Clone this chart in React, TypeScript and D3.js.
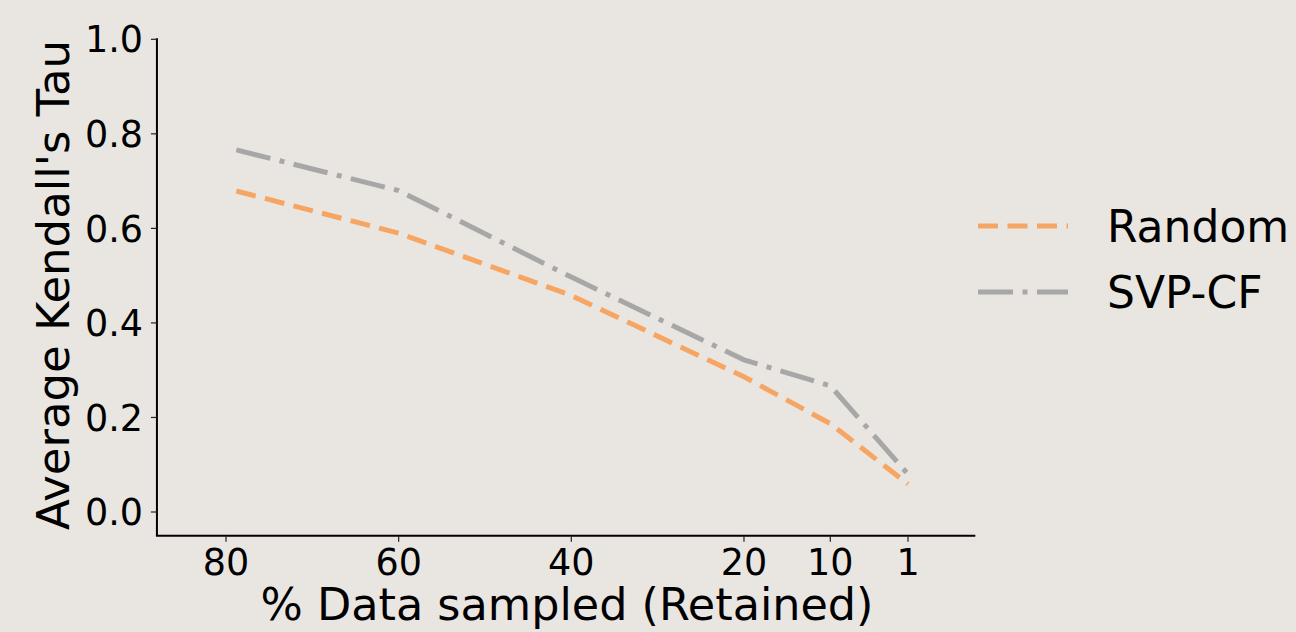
import React from 'react';
import * as d3 from 'd3';

// sampled share of data (% retained) and mean Kendall's tau per method
const sampled = [78.8, 60, 40, 20, 10, 1];
const randomTau = [0.679, 0.59, 0.458, 0.286, 0.187, 0.059];
const svpTau = [0.766, 0.68, 0.497, 0.322, 0.267, 0.08];
const xTicks = [80, 60, 40, 20, 10, 1];
const yTicks = [0, 0.2, 0.4, 0.6, 0.8, 1.0];

const series = [
    { name: 'Random', vals: randomTau, color: '#f6a562', dash: '20,9.5' },
    { name: 'SVP-CF', vals: svpTau, color: '#a7a7a7', dash: '35,9.5,5,9.5' },
];

const W = 1296, H = 632;
const font = 'DejaVu Sans, sans-serif';

export default function App() {
    const x = d3.scaleLinear().domain([80, 1]).range([226, 908]);
    const y = d3.scaleLinear().domain([0, 1]).range([512, 39.3]);
    const xLim = [88, -6.8];
    const yLim = [-0.05, 1.002];

    const line = d3.line<number>()
        .x((_, i) => x(sampled[i]))
        .y(d => y(d));

    const x0 = x(xLim[0]), x1 = x(xLim[1]);
    const yb = y(yLim[0]), yt = y(yLim[1]);

    return (
        <svg width={W} height={H} style={{ position: 'absolute', left: 0, top: 0 }} fontFamily={font}>
            <rect width={W} height={H} fill="#e9e6e1" />

            {series.map(s => (
                <path key={s.name} d={line(s.vals) || ''} fill="none" stroke={s.color}
                    strokeWidth={5} strokeDasharray={s.dash} />
            ))}

            {/* spines */}
            <line x1={x0} x2={x0} y1={yt} y2={yb} stroke="#000" strokeWidth={2} />
            <line x1={x0 - 1} x2={x1} y1={yb} y2={yb} stroke="#000" strokeWidth={2} />

            {yTicks.map(t => (
                <g key={t}>
                    <line x1={x0 - 6} x2={x0} y1={y(t)} y2={y(t)} stroke="#222" strokeWidth={1.2} />
                    <text x={143} y={y(t)} dy="0.36em" textAnchor="end" fontSize={36.5}>{t.toFixed(1)}</text>
                </g>
            ))}

            {xTicks.map(t => (
                <g key={t}>
                    <line x1={x(t)} x2={x(t)} y1={yb} y2={yb + 6} stroke="#222" strokeWidth={1.2} />
                    <text x={x(t)} y={575} textAnchor="middle" fontSize={36.5}>{t}</text>
                </g>
            ))}

            <text x={567} y={620} textAnchor="middle" fontSize={44.5}>% Data sampled (Retained)</text>
            <text transform="translate(69,285) rotate(-90)" textAnchor="middle" fontSize={45}>Average Kendall's Tau</text>

            {series.map((s, i) => (
                <g key={s.name} transform={`translate(978,${226 + i * 66})`}>
                    <line x1={0} x2={90} y1={0} y2={0} stroke={s.color} strokeWidth={5} strokeDasharray={s.dash} />
                    <text x={129} y={16} fontSize={44}>{s.name}</text>
                </g>
            ))}
        </svg>
    );
}
